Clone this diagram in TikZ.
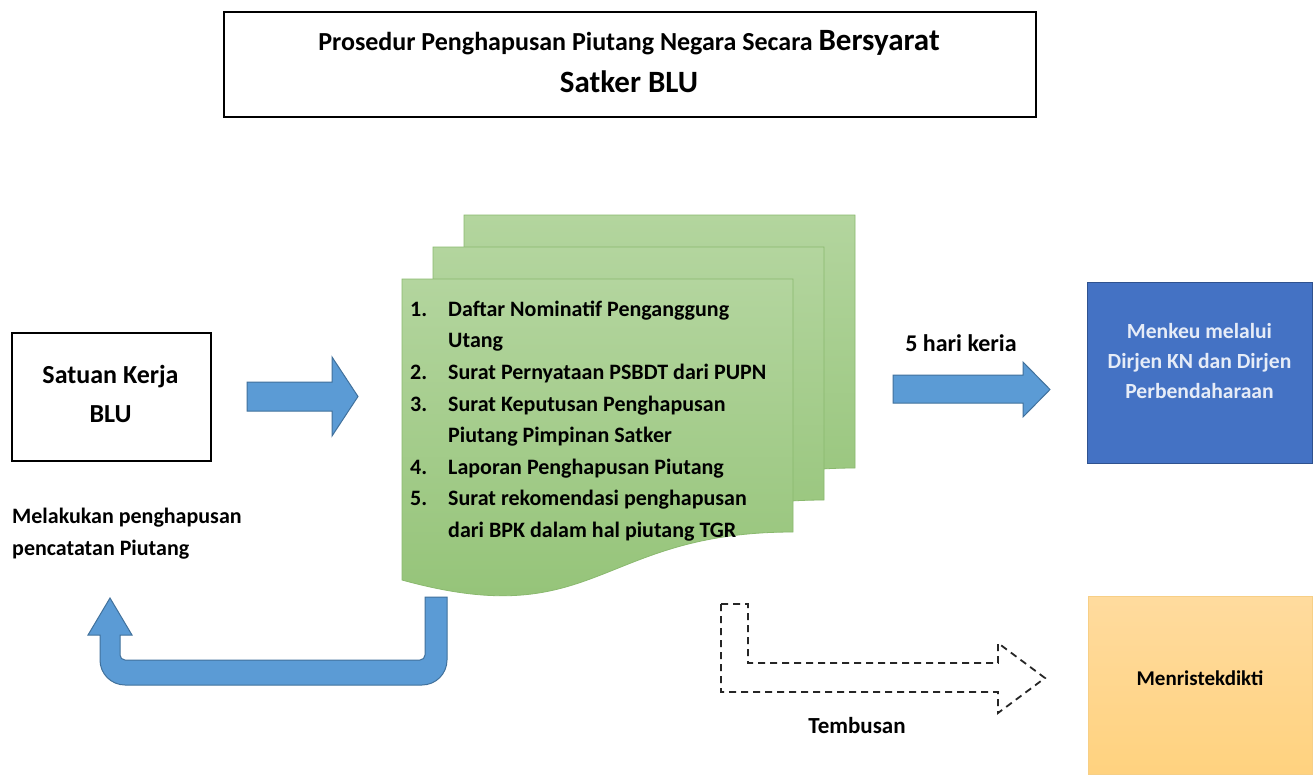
\documentclass[tikz,border=0pt]{standalone}
\usepackage{fontspec}
\setmainfont{Carlito}
\definecolor{arrowblue}{HTML}{5B9BD5}
\definecolor{arrowedge}{HTML}{41719C}
\definecolor{boxblue}{HTML}{4472C4}
\definecolor{boxblueedge}{HTML}{2F528F}
\definecolor{boxtext}{HTML}{E6ECF7}
\definecolor{docTop}{HTML}{B3D59E}
\definecolor{docBot}{HTML}{92C275}
\definecolor{docLine}{HTML}{8AB96E}
\definecolor{goldTop}{HTML}{FFDB9E}
\definecolor{goldBot}{HTML}{FFD27F}
\definecolor{goldLine}{HTML}{F7CF86}
\begin{document}
\begin{tikzpicture}[x=1pt,y=-1pt,
  txt/.style={inner sep=0pt, font=\bfseries},
  bluearrow/.style={fill=arrowblue, draw=arrowedge, line width=1pt, line join=miter},
  docshape/.style={top color=docTop, bottom color=docBot, draw=docLine, line width=0.8pt},
  dasharrow/.style={draw=black!85, line width=1.8pt, dash pattern=on 7pt off 5pt},
  ]
\useasboundingbox (0,0) rectangle (1314,774);
\fill[white] (0,0) rectangle (1314,774);

% ---------- title ----------
\node[draw=black, line width=1.8pt, minimum width=812pt, minimum height=105pt,
      inner sep=0pt, anchor=north west] (title) at (223,11) {};
\node[txt, anchor=base] (t1) at (629,50)
  {\fontsize{26}{30}\selectfont Prosedur Penghapusan Piutang Negara Secara
   \fontsize{31}{36}\selectfont Bersyarat};
\node[txt, anchor=base] (t2) at (629,92) {\fontsize{31}{36}\selectfont Satker BLU};

% ---------- Satuan Kerja BLU ----------
\node[draw=black, line width=1.6pt, minimum width=199pt, minimum height=128pt,
      inner sep=0pt, anchor=north west] (satker) at (11,332) {};
\node[txt, anchor=base] (s1) at (110.5,383) {\fontsize{26}{30}\selectfont Satuan Kerja};
\node[txt, anchor=base] (s2) at (110.5,422) {\fontsize{26}{30}\selectfont BLU};

% arrow satker -> documents
\draw[bluearrow] (247,382) -- (332,382) -- (332,357) -- (358,396.5)
  -- (332,436) -- (332,411) -- (247,411) -- cycle;

% ---------- documents ----------
\foreach \dx/\dy in {62/-64, 31/-32, 0/0}{
  \begin{scope}[shift={(\dx,\dy)}]
    \path[docshape] (402,279) -- (793,279) -- (793,532)
      .. controls (597.5,532) and (597.5,634) .. (402,580) -- cycle;
  \end{scope}
}

\begin{scope}[every node/.style={txt, anchor=base west, font=\bfseries\fontsize{22}{26}\selectfont}]
\node (n1) at (410,316) {1.};
\node (l1) at (448,316) {Daftar Nominatif Penganggung};
\node (l1b) at (448,347.5) {Utang};
\node (n2) at (410,379.5) {2.};
\node (l2) at (448,379.5) {Surat Pernyataan PSBDT dari PUPN};
\node (n3) at (410,411) {3.};
\node (l3) at (448,411) {Surat Keputusan Penghapusan};
\node (l3b) at (448,442.5) {Piutang Pimpinan Satker};
\node (n4) at (410,474) {4.};
\node (l4) at (448,474) {Laporan Penghapusan Piutang};
\node (n5) at (410,505.5) {5.};
\node (l5) at (448,505.5) {Surat rekomendasi penghapusan};
\node (l5b) at (448,537) {dari BPK dalam hal piutang TGR};
\end{scope}

% ---------- feedback text ----------
\node[txt, anchor=base west] (m1) at (12,523) {\fontsize{22}{26}\selectfont Melakukan penghapusan};
\node[txt, anchor=base west] (m2) at (12,555) {\fontsize{22}{26}\selectfont pencatatan Piutang};

% U-turn arrow
\draw[bluearrow] (425,597) -- (447,597) -- (447,660)
  arc[start angle=0, end angle=90, radius=25] -- (125,685)
  arc[start angle=90, end angle=180, radius=25] -- (100,635)
  -- (88,635) -- (110,598) -- (132,635) -- (120,635) -- (120,655)
  arc[start angle=180, end angle=90, radius=5] -- (420,660)
  arc[start angle=90, end angle=0, radius=5] -- cycle;

% ---------- to Menkeu ----------
\node[txt, anchor=base] (hari) at (961,351.5) {\fontsize{24}{28}\selectfont 5 hari keria};
\draw[bluearrow] (893,375) -- (1023,375) -- (1023,362) -- (1050,389.5)
  -- (1023,417) -- (1023,403) -- (893,403) -- cycle;

\node[fill=boxblue, draw=boxblueedge, line width=1pt, minimum width=225pt,
      minimum height=181pt, inner sep=0pt, anchor=north west] (menkeu) at (1087,282) {};
\begin{scope}[every node/.style={txt, anchor=base, text=boxtext, font=\bfseries\fontsize{21.6}{25}\selectfont}]
\node (k1) at (1199.5,338) {Menkeu melalui};
\node (k2) at (1199.5,368) {Dirjen KN dan Dirjen};
\node (k3) at (1199.5,398) {Perbendaharaan};
\end{scope}

% ---------- Tembusan ----------
\draw[dasharrow] (721,604) -- (748,604) -- (748,663) -- (998,663) -- (998,643)
  -- (1045,678) -- (998,713) -- (998,692) -- (721,692) -- cycle;
\node[txt, anchor=base] (temb) at (857,733) {\fontsize{23}{27}\selectfont Tembusan};

\path[top color=goldTop, bottom color=goldBot, draw=goldLine, line width=0.8pt]
  (1088,596) rectangle (1312,774);
\node[inner sep=0pt, minimum width=224pt, minimum height=178pt, anchor=north west] (menrist) at (1088,596) {};
\node[txt, anchor=base] (mr) at (1200,685) {\fontsize{21}{25}\selectfont Menristekdikti};
\end{tikzpicture}
\end{document}
